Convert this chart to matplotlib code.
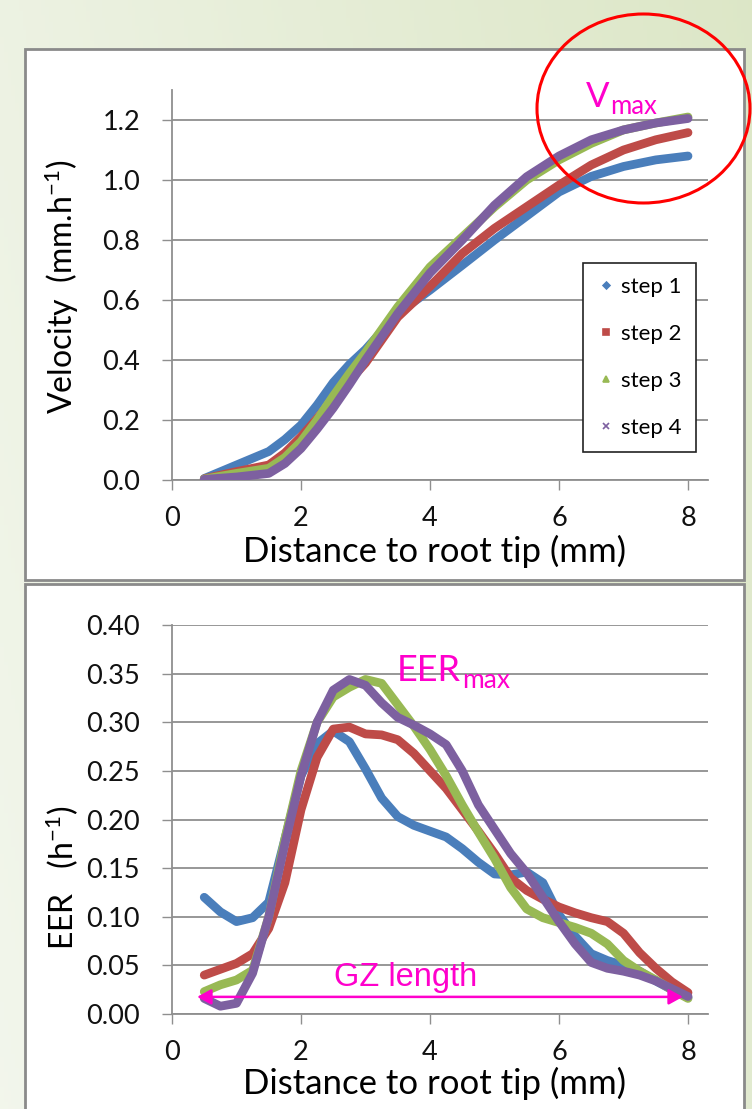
import matplotlib
matplotlib.use("Agg")
import matplotlib.pyplot as plt
from matplotlib.patches import Rectangle, Ellipse
from matplotlib.lines import Line2D
import numpy as np

plt.rcParams['font.family'] = ['Lato', 'DejaVu Sans']
plt.rcParams['mathtext.fontset'] = 'custom'
plt.rcParams['mathtext.rm'] = 'Lato'
plt.rcParams['mathtext.it'] = 'Lato:italic'

#%% ---------------- data ---------------------------------------
steps = ['step 1', 'step 2', 'step 3', 'step 4']

# velocity profile (mm/h) vs distance to root tip (mm)
x_vel = [0.5, 1.0, 1.5, 1.75, 2.0, 2.25, 2.5, 2.75, 3.0, 3.5, 4.0, 4.5, 5.0, 5.5, 6.0, 6.5, 7.0, 7.5, 8.0]
vel_1 = [0.005, 0.050, 0.095, 0.135, 0.183, 0.250, 0.325, 0.385, 0.435, 0.555, 0.633, 0.716, 0.800, 0.880, 0.960, 1.012, 1.045, 1.067, 1.080]
vel_2 = [0.004, 0.028, 0.050, 0.090, 0.144, 0.205, 0.270, 0.330, 0.390, 0.543, 0.645, 0.755, 0.839, 0.911, 0.983, 1.050, 1.100, 1.134, 1.158]
vel_3 = [0.003, 0.022, 0.039, 0.075, 0.128, 0.200, 0.280, 0.355, 0.425, 0.577, 0.710, 0.810, 0.910, 1.000, 1.067, 1.122, 1.167, 1.190, 1.210]
vel_4 = [0.002, 0.010, 0.022, 0.055, 0.105, 0.170, 0.240, 0.318, 0.400, 0.555, 0.690, 0.800, 0.916, 1.011, 1.080, 1.134, 1.167, 1.190, 1.205]

# relative elemental elongation rate (1/h)
x_eer = [0.5, 0.75, 1.0, 1.25, 1.5, 1.75, 2.0, 2.25, 2.5, 2.75, 3.0, 3.25, 3.5, 3.75, 4.0, 4.25,
         4.5, 4.75, 5.0, 5.25, 5.5, 5.75, 6.0, 6.25, 6.5, 6.75, 7.0, 7.25, 7.5, 7.75, 8.0]
eer_1 = [0.120, 0.105, 0.095, 0.099, 0.115, 0.180, 0.245, 0.278, 0.291, 0.280, 0.252, 0.222, 0.203, 0.194, 0.188, 0.182,
         0.170, 0.156, 0.144, 0.143, 0.146, 0.135, 0.102, 0.080, 0.062, 0.055, 0.050, 0.044, 0.034, 0.025, 0.017]
eer_2 = [0.040, 0.046, 0.052, 0.062, 0.088, 0.135, 0.210, 0.264, 0.293, 0.295, 0.288, 0.287, 0.282, 0.268, 0.250, 0.232,
         0.210, 0.188, 0.165, 0.140, 0.127, 0.118, 0.110, 0.104, 0.099, 0.095, 0.083, 0.063, 0.047, 0.033, 0.022]
eer_3 = [0.023, 0.030, 0.035, 0.045, 0.100, 0.180, 0.250, 0.300, 0.326, 0.336, 0.344, 0.340, 0.318, 0.296, 0.272, 0.245,
         0.215, 0.187, 0.160, 0.130, 0.108, 0.099, 0.094, 0.089, 0.083, 0.072, 0.055, 0.044, 0.035, 0.025, 0.016]
eer_4 = [0.016, 0.008, 0.011, 0.042, 0.100, 0.175, 0.245, 0.300, 0.333, 0.344, 0.338, 0.320, 0.305, 0.297, 0.288, 0.277,
         0.250, 0.215, 0.190, 0.165, 0.145, 0.120, 0.095, 0.072, 0.053, 0.047, 0.044, 0.040, 0.034, 0.026, 0.018]

x_ticks = [0, 2, 4, 6, 8]
vel_ticks = [0.0, 0.2, 0.4, 0.6, 0.8, 1.0, 1.2]
eer_ticks = [0.00, 0.05, 0.10, 0.15, 0.20, 0.25, 0.30, 0.35, 0.40]

#%% ---------------- styling ----------------
colors = ['#4A7EBB', '#BE4B48', '#98B954', '#7D60A0']
markers = ['D', 's', '^', 'x']
msizes = [3.5, 5, 5, 4.5]
MAGENTA = '#FF00CC'
GRID = '#8f8f8f'
W, H = 752, 1109

def fx(px):
    return px / W

def fy(py):
    return 1 - py / H

fig = plt.figure(figsize=(W / 100, H / 100), dpi=100)
renderer = fig.canvas.get_renderer()

# greenish slide background
bg = fig.add_axes([0, 0, 1, 1], zorder=-10)
gx, gy = np.meshgrid(np.linspace(0, 1, 200), np.linspace(0, 1, 300))
t = np.clip(0.75 * gx + 0.25 * (1 - gy), 0, 1)[..., None]
c0 = np.array([0.950, 0.965, 0.925])
c1 = np.array([0.865, 0.905, 0.780])
bg.imshow(c0 * (1 - t) + c1 * t, aspect='auto', extent=[0, 1, 0, 1])
bg.axis('off')

# white panels
for top, bot in [(49, 580), (584, 1120)]:
    fig.patches.append(Rectangle((fx(25), fy(bot)), fx(744) - fx(25), (bot - top) / H,
                                 transform=fig.transFigure, facecolor='white',
                                 edgecolor='#8a8a8a', lw=2, zorder=-5))

ax1 = fig.add_axes([fx(172), fy(480), (708 - 172) / W, (480 - 90) / H])
ax2 = fig.add_axes([fx(172), fy(1014), (708 - 172) / W, (1014 - 625) / H])

for ax, ys, ticks, fmt in [(ax1, [vel_1, vel_2, vel_3, vel_4], vel_ticks, '{:.1f}'),
                           (ax2, [eer_1, eer_2, eer_3, eer_4], eer_ticks, '{:.2f}')]:
    xs = x_vel if ax is ax1 else x_eer
    for y, c in zip(ys, colors):
        ax.plot(xs, y, color=c, lw=6.3, solid_capstyle='round', solid_joinstyle='round', zorder=3)
    ax.set_facecolor('none')
    ax.set_xlim(0, 8.31)
    ax.set_xticks(x_ticks)
    ax.set_yticks(ticks)
    ax.set_yticklabels([fmt.format(v) for v in ticks])
    ax.yaxis.grid(True, color=GRID, lw=1.3)
    ax.set_axisbelow(True)
    for s in ['top', 'right']:
        ax.spines[s].set_visible(False)
    for s in ['left', 'bottom']:
        ax.spines[s].set_color(GRID)
        ax.spines[s].set_linewidth(1.3)
    ax.tick_params(axis='both', direction='out', length=7, width=1, color=GRID,
                   labelsize=19.5, labelcolor='#111111')
    ax.tick_params(axis='x', pad=12)
    ax.tick_params(axis='y', pad=16)
    ax.set_xlabel('Distance to root tip (mm)', fontsize=25, va='baseline')

ax1.set_ylim(0, 1.3)
ax2.set_ylim(0, 0.40)
ax1.xaxis.set_label_coords(0.489, -0.210)
ax2.xaxis.set_label_coords(0.489, -0.2057)

ax1.set_ylabel(r'Velocity  (mm.h$\mathregular{^{-1}}$)', fontsize=23, va='center')
ax1.yaxis.set_label_coords(-0.205, 0.495)
ax2.set_ylabel(r'EER   (h$\mathregular{^{-1}}$)', fontsize=23, va='center')
ax2.yaxis.set_label_coords(-0.205, 0.349)

# legend
handles = [Line2D([], [], ls='none', marker=m, color=c, ms=s, mew=1.2)
           for m, c, s in zip(markers, colors, msizes)]
leg = ax1.legend(handles, steps, loc='upper left',
                 bbox_to_anchor=(0.767, 0.556), fontsize=16,
                 labelspacing=1.22, borderpad=0.62, handlelength=0.8, handletextpad=0.3,
                 borderaxespad=0, numpoints=1, fancybox=False, framealpha=1)
leg.get_frame().set_edgecolor('#222222')
leg.get_frame().set_linewidth(1.2)


def label_with_sub(x, y, main, sub, size, subsize, drop, family):
    # main text on the baseline, subscript right after it and a bit lower
    tm = fig.text(fx(x), fy(y), main, color=MAGENTA, fontsize=size, va='baseline',
                  ha='left', family=family, zorder=6)
    bb = tm.get_window_extent(renderer)
    fig.text(bb.x1 / W + 1 / W, fy(y + drop), sub, color=MAGENTA, fontsize=subsize,
             va='baseline', ha='left', family=family, zorder=6)


# V max with red circle
fig.patches.append(Ellipse((fx(643.5), fy(108.5)), 213 / W, 189 / H, transform=fig.transFigure,
                           fill=False, edgecolor='#FF0000', lw=2.2, zorder=5))
label_with_sub(586, 107, 'V', 'max', 25, 18.5, 7, ['Lato', 'DejaVu Sans'])

# EER max
label_with_sub(397, 681, 'EER', 'max', 26, 19, 7, ['Lato', 'DejaVu Sans'])

# growth zone length
ax2.annotate('', xy=(0.39, 0.0176), xytext=(7.92, 0.0176),
             arrowprops=dict(arrowstyle='<|-|>,head_length=0.6,head_width=0.33',
                             mutation_scale=14, color=MAGENTA, lw=1.8, shrinkA=0, shrinkB=0),
             zorder=6)
fig.text(fx(406), fy(986), 'GZ length', color=MAGENTA, fontsize=23.5, va='baseline', ha='center',
         family=['Liberation Sans', 'DejaVu Sans'], zorder=6)

fig.savefig('out.png', dpi=100)
